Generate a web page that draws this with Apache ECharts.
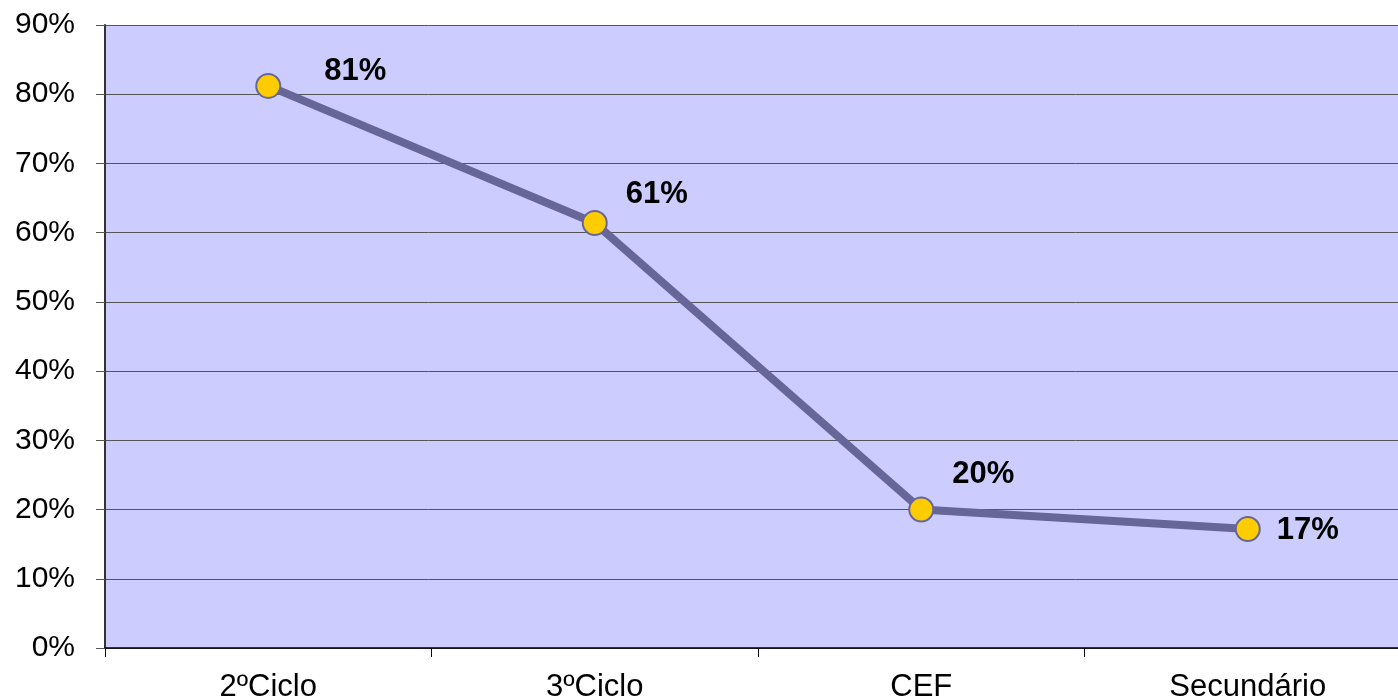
<!DOCTYPE html>
<html><head><meta charset="utf-8">
<script src="https://cdn.jsdelivr.net/npm/echarts@6/dist/echarts.min.js"></script>
<style>html,body{margin:0;padding:0;background:#fff}#c{width:1398px;height:699px}</style>
</head><body><div id="c"></div>
<script>
const categories = ['2ºCiclo', '3ºCiclo', 'CEF', 'Secundário'];
const values = [81.2, 61.4, 20.0, 17.2];
const yTicks = [0, 10, 20, 30, 40, 50, 60, 70, 80, 90];

const labelOffsets = [[87, -14], [62, -29], [62, -35], [60, 2]];

const chart = echarts.init(document.getElementById('c'));
chart.setOption({
  animation: false,
  grid: { left: 105, right: -13, top: 25, bottom: 51, show: true, backgroundColor: '#CCCCFF', borderWidth: 0, outerBoundsMode: 'none' },
  xAxis: {
    type: 'category', data: categories, boundaryGap: true,
    axisLine: { lineStyle: { color: '#000', width: 1.5 } },
    axisTick: { show: true, length: 9, lineStyle: { color: '#000' } },
    axisLabel: { fontFamily: 'Liberation Sans', fontSize: 31, color: '#000', margin: 24 }
  },
  yAxis: {
    type: 'value', min: yTicks[0], max: yTicks[yTicks.length - 1], interval: 10,
    axisLine: { show: true, lineStyle: { color: '#333', width: 2 } },
    axisTick: { show: true, length: 9, lineStyle: { color: '#555' } },
    splitLine: { lineStyle: { color: '#555', width: 1 } },
    axisLabel: { formatter: '{value}%', fontFamily: 'Liberation Sans', fontSize: 30, color: '#000', margin: 30 }
  },
  series: [{
    type: 'line',
    data: values.map((v, i) => ({
      value: v,
      label: { offset: labelOffsets[i] }
    })),
    lineStyle: { color: '#666699', width: 8 },
    symbol: 'circle', symbolSize: 24,
    itemStyle: { color: '#FFCC00', borderColor: '#666699', borderWidth: 2 },
    label: {
      show: true, position: 'inside',
      formatter: p => Math.round(p.value) + '%',
      fontFamily: 'Liberation Sans', fontWeight: 'bold', fontSize: 31, color: '#000'
    },
    z: 5
  }]
});
</script></body></html>
